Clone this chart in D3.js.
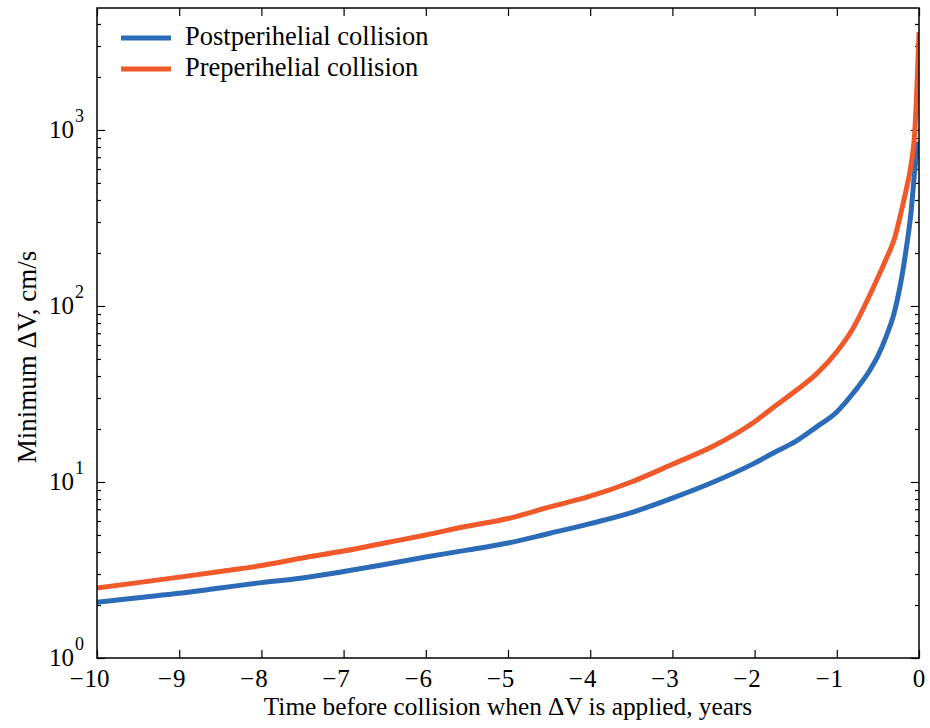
<!DOCTYPE html>
<html>
<head>
<meta charset="utf-8">
<script src="https://cdn.jsdelivr.net/npm/d3@7"></script>
<style>
  html, body { margin: 0; padding: 0; background: #fff; }
  svg { display: block; font-family: "Liberation Serif", "DejaVu Serif", serif; }
</style>
</head>
<body>
<div id="chart"></div>
<script>
// Time before collision (years) and minimum dV (cm/s)
const years = [-10, -9.5, -9, -8.5, -8, -7.5, -7, -6.5, -6, -5.5, -5, -4.5, -4, -3.5, -3,
  -2.5, -2, -1.75, -1.5, -1.25, -1, -0.8, -0.6, -0.5, -0.4, -0.3, -0.2, -0.15, -0.1, -0.05, -0.02, 0];
const postDV = [2.07, 2.2, 2.33, 2.5, 2.68, 2.85, 3.1, 3.4, 3.75, 4.1, 4.5, 5.1, 5.8, 6.7, 8.1,
  10, 12.8, 14.8, 17, 20.5, 25, 32, 43, 52, 67, 92, 155, 220, 330, 600, 800, 850];
const preDV = [2.5, 2.68, 2.88, 3.1, 3.35, 3.7, 4.05, 4.5, 5.0, 5.6, 6.2, 7.2, 8.3, 10.0, 12.6,
  16, 22, 27, 33, 41, 55, 75, 115, 145, 185, 240, 370, 470, 620, 1000, 2000, 3600];

const seriesNames = ['Postperihelial collision', 'Preperihelial collision'];
const seriesColors = ['#2c6bb7', '#f0592a'];
const xTicks = [-10, -9, -8, -7, -6, -5, -4, -3, -2, -1, 0];
const yMajor = [1, 10, 100, 1000];
const yMax = 4930;

const W = 930, H = 728;
const m = { left: 97, right: 11, top: 8, bottom: 70 };
const iw = W - m.left - m.right, ih = H - m.top - m.bottom;

const svg = d3.select('#chart').append('svg')
  .attr('width', W).attr('height', H);
const g = svg.append('g').attr('transform', `translate(${m.left},${m.top})`);

const x = d3.scaleLinear().domain([-10, 0]).range([0, iw]);
const y = d3.scaleLog().domain([1, yMax]).range([ih, 0]);

// minor ticks on the log axis
const yMinor = [];
for (const d of yMajor) for (let k = 2; k <= 9; k++) if (d * k <= yMax) yMinor.push(d * k);

const fmtNone = () => '';
function styleAxis(sel) {
  sel.select('.domain').remove();
  sel.selectAll('line').attr('stroke', '#000').attr('stroke-width', 1.2);
}

g.append('g').attr('transform', `translate(0,${ih})`)
  .call(d3.axisBottom(x).tickValues(xTicks).tickSize(-8).tickSizeOuter(0).tickFormat(fmtNone))
  .call(styleAxis);
g.append('g')
  .call(d3.axisTop(x).tickValues(xTicks).tickSize(-8).tickSizeOuter(0).tickFormat(fmtNone))
  .call(styleAxis);
g.append('g')
  .call(d3.axisLeft(y).tickValues(yMajor).tickSize(-8).tickSizeOuter(0).tickFormat(fmtNone))
  .call(styleAxis);
g.append('g')
  .call(d3.axisLeft(y).tickValues(yMinor).tickSize(-4).tickSizeOuter(0).tickFormat(fmtNone))
  .call(styleAxis);
g.append('g').attr('transform', `translate(${iw},0)`)
  .call(d3.axisRight(y).tickValues(yMajor).tickSize(-8).tickSizeOuter(0).tickFormat(fmtNone))
  .call(styleAxis);
g.append('g').attr('transform', `translate(${iw},0)`)
  .call(d3.axisRight(y).tickValues(yMinor).tickSize(-4).tickSizeOuter(0).tickFormat(fmtNone))
  .call(styleAxis);

// lines
const line = d3.line()
  .x((d, i) => x(years[i]))
  .y(d => y(d))
  .curve(d3.curveMonotoneX);

g.append('clipPath').attr('id', 'clip')
  .append('rect').attr('width', iw).attr('height', ih);

[postDV, preDV].forEach((vals, i) => {
  g.append('path')
    .attr('clip-path', 'url(#clip)')
    .attr('d', line(vals))
    .attr('fill', 'none')
    .attr('stroke', seriesColors[i])
    .attr('stroke-width', 5)
    .attr('stroke-linejoin', 'round');
});

// frame
g.append('rect').attr('width', iw).attr('height', ih)
  .attr('fill', 'none').attr('stroke', '#000').attr('stroke-width', 1.5);

// x tick labels (digits centred on the tick, minus hanging left)
xTicks.forEach(t => {
  const digits = String(Math.abs(t));
  const lbl = g.append('text')
    .attr('x', x(t)).attr('y', ih + 29)
    .attr('text-anchor', 'middle')
    .attr('font-size', 25)
    .text(digits);
  if (t < 0) {
    const w = lbl.node().getComputedTextLength();
    g.append('text')
      .attr('x', x(t) - w / 2 - 1).attr('y', ih + 29)
      .attr('text-anchor', 'end')
      .attr('font-size', 25)
      .text('\u2212');
  }
});

// y tick labels 10^n
yMajor.forEach(v => {
  const e = Math.round(Math.log10(v));
  g.append('text')
    .attr('x', -23).attr('y', y(v) + 8)
    .attr('text-anchor', 'end')
    .attr('font-size', 25)
    .text('10');
  g.append('text')
    .attr('x', -22).attr('y', y(v) - 8)
    .attr('font-size', 18)
    .text(e);
});

// axis labels
svg.append('text')
  .attr('x', m.left + iw / 2).attr('y', 715)
  .attr('text-anchor', 'middle')
  .attr('font-size', 25.3)
  .text('Time before collision when \u0394V is applied, years');

svg.append('text')
  .attr('transform', `translate(36,357) rotate(-90)`)
  .attr('text-anchor', 'middle')
  .attr('font-size', 27)
  .text('Minimum \u0394V, cm/s');

// legend
const legend = svg.append('g');
seriesNames.forEach((name, i) => {
  const ly = 38 + i * 31;
  legend.append('line')
    .attr('x1', 121).attr('x2', 171).attr('y1', ly).attr('y2', ly)
    .attr('stroke', seriesColors[i]).attr('stroke-width', 5);
  legend.append('text')
    .attr('x', 185).attr('y', ly + 7)
    .attr('font-size', 26.5)
    .text(name);
});
</script>
</body>
</html>
